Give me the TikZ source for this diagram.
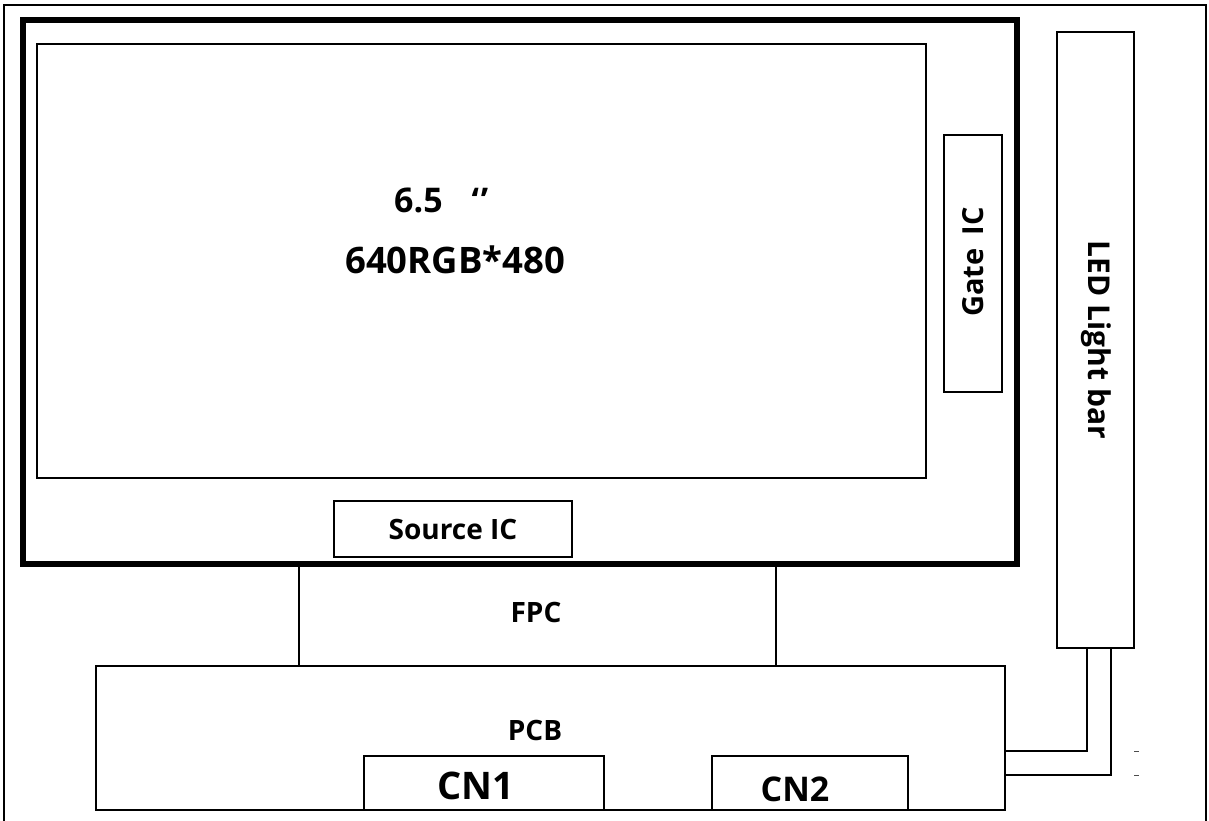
\documentclass[tikz,border=0pt]{standalone}
\usepackage{fontspec}
\setmainfont{Open Sans}
\begin{document}
\begin{tikzpicture}[x=1pt,y=-1pt,
  box/.style={draw, line width=1.3pt, inner sep=0pt, outer sep=0pt, anchor=north west},
  lbl/.style={inner sep=0pt},
  wire/.style={line width=1.3pt}]
\useasboundingbox (0,0) rectangle (1209,821);
% outer frame
\draw[line width=2.5pt] (4,821) -- (4,5) -- (1206,5) -- (1206,821);
% boxes
\node[box, line width=6pt, minimum width=994pt, minimum height=544pt] (panel) at (23,20) {};
\node[box, minimum width=889pt, minimum height=434pt] (screen) at (37,44) {};
\node[box, minimum width=58pt, minimum height=257pt] (gate) at (944,135) {};
\node[box, minimum width=77pt, minimum height=616pt] (led) at (1057,32) {};
\node[box, minimum width=238pt, minimum height=56pt] (source) at (334,501) {};
\node[box, minimum width=909pt, minimum height=144pt] (pcb) at (96,666) {};
\node[box, minimum width=240pt, minimum height=54pt] (cn1) at (364,756) {};
\node[box, minimum width=196pt, minimum height=54pt] (cn2) at (712,756) {};
% labels
\node[lbl, anchor=base west, font=\bfseries\fontsize{34}{34}\selectfont] (size) at (394,212) {6.5\hspace{0.85em}‘\kern2pt’};
\node[lbl, anchor=base west, font=\bfseries\fontsize{36.5}{36.5}\selectfont] (res) at (345,273) {640RGB*480};
\node[lbl, rotate=90, font=\bfseries\fontsize{29}{29}\selectfont] (gatel) at (973,262) {Gate\hspace{0.45em}IC};
\node[lbl, rotate=-90, font=\bfseries\fontsize{30}{30}\selectfont] (ledl) at (1096,340) {LED Light bar};
\node[lbl, font=\bfseries\fontsize{28}{28}\selectfont] (sourcel) at (453,529) {Source IC};
\node[lbl, font=\bfseries\fontsize{28}{28}\selectfont] (fpcl) at (536,612) {FPC};
\node[lbl, font=\bfseries\fontsize{28}{28}\selectfont] (pcbl) at (535,730) {PCB};
\node[lbl, font=\bfseries\fontsize{38}{38}\selectfont] (cn1l) at (476,786) {CN1};
\node[lbl, font=\bfseries\fontsize{34}{34}\selectfont] (cn2l) at (795,789) {CN2};
% FPC connectors
\coordinate (f1) at (299,564);
\coordinate (f2) at (776,564);
\draw[wire] (f1) -- (f1 |- pcb.north);
\draw[wire] (f2) -- (f2 |- pcb.north);
% LED wires
\coordinate (w1) at (1087,648);
\coordinate (w1b) at (1087,751);
\coordinate (w2) at (1111,648);
\coordinate (w2b) at (1111,775);
\draw[wire] (w1) -- (w1b) -- (w1b -| pcb.east);
\draw[wire] (w2) -- (w2b) -- (w2b -| pcb.east);
\coordinate (t1) at (1134,751);
\coordinate (t2) at (1134,775);
\draw[line width=1pt, black!70] (t1) -- ++(5,0);
\draw[line width=1pt, black!70] (t2) -- ++(5,0);
\end{tikzpicture}
\end{document}
